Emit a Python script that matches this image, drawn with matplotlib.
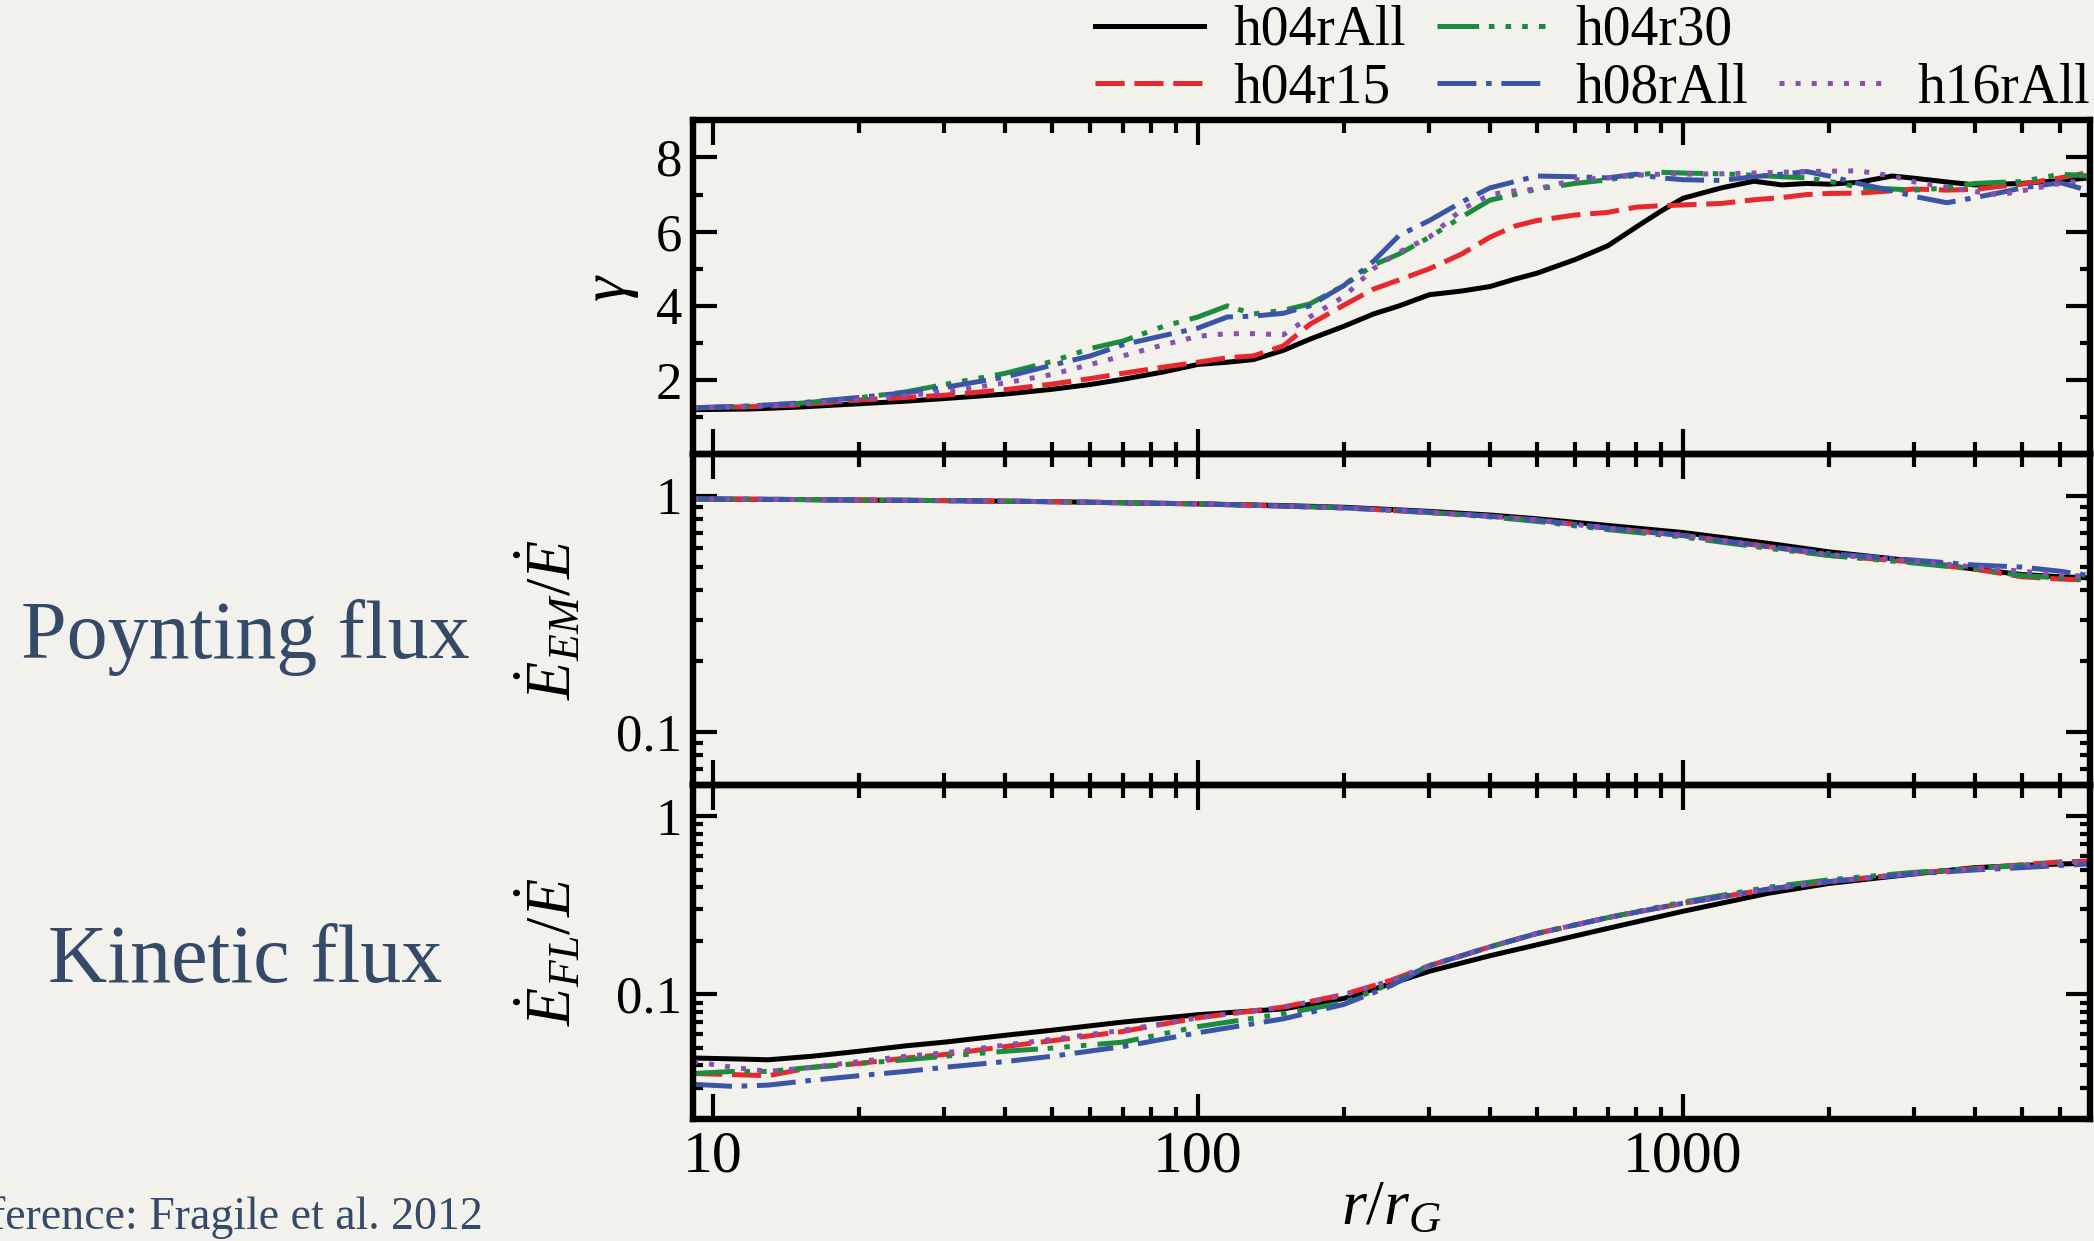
import numpy as np
import matplotlib
matplotlib.use("Agg")
import matplotlib.pyplot as plt
from matplotlib.lines import Line2D
from matplotlib.ticker import LogLocator, NullFormatter, FixedLocator, FixedFormatter

plt.rcParams['font.family'] = ['Liberation Serif', 'DejaVu Serif']
plt.rcParams['mathtext.fontset'] = 'custom'
plt.rcParams['mathtext.rm'] = 'Liberation Serif'
plt.rcParams['mathtext.it'] = 'Liberation Serif:italic'
plt.rcParams['lines.scale_dashes'] = False

# runs: label, colour, dash pattern (points)
labels = ["h04rAll", "h04r15", "h04r30", "h08rAll", "h16rAll"]
colors = ["#000000", "#e8282c", "#1b8c3d", "#3b55a6", "#8a50b0"]
dashes = [None, (21, 7), (30, 7, 4, 8, 4, 8, 4, 8), (28, 7, 4, 7), (3.6, 8)]

# Lorentz factor
r_gamma = [9.1, 12, 15, 20, 25, 30, 40, 50, 60, 70, 85, 100, 115, 130, 150, 170,
           200, 230, 260, 300, 350, 400, 450, 500, 600, 700, 800, 900, 1000, 1200,
           1400, 1600, 1800, 2000, 2300, 2700, 3000, 3500, 4000, 4500, 5000, 6000, 6900]
gamma_h04rAll = [1.20, 1.22, 1.27, 1.36, 1.43, 1.50, 1.62, 1.75, 1.88, 2.02, 2.22, 2.42,
                 2.48, 2.55, 2.80, 3.10, 3.45, 3.78, 4.00, 4.30, 4.40, 4.52, 4.72, 4.88,
                 5.25, 5.62, 6.12, 6.55, 6.90, 7.18, 7.36, 7.26, 7.30, 7.28, 7.33, 7.50,
                 7.44, 7.34, 7.26, 7.28, 7.30, 7.38, 7.45]
gamma_h04r15 = [1.25, 1.28, 1.33, 1.46, 1.53, 1.59, 1.74, 1.89, 2.04, 2.18, 2.35, 2.48,
                2.60, 2.65, 2.92, 3.50, 4.02, 4.45, 4.70, 5.00, 5.40, 5.85, 6.15, 6.30,
                6.45, 6.52, 6.66, 6.70, 6.72, 6.76, 6.86, 6.92, 7.00, 7.03, 7.04, 7.10,
                7.15, 7.12, 7.14, 7.22, 7.28, 7.45, 7.60]
gamma_h04r30 = [1.25, 1.30, 1.37, 1.52, 1.68, 1.88, 2.18, 2.50, 2.85, 3.05, 3.45, 3.70,
                4.00, 3.78, 3.88, 4.05, 4.55, 5.10, 5.40, 5.85, 6.40, 6.85, 7.00, 7.15,
                7.30, 7.40, 7.52, 7.60, 7.58, 7.56, 7.52, 7.48, 7.45, 7.36, 7.20, 7.15,
                7.12, 7.18, 7.30, 7.33, 7.35, 7.55, 7.50]
gamma_h08rAll = [1.25, 1.30, 1.38, 1.53, 1.66, 1.80, 2.08, 2.40, 2.65, 2.95, 3.20, 3.40,
                 3.70, 3.72, 3.80, 4.00, 4.55, 5.20, 5.90, 6.30, 6.80, 7.18, 7.35, 7.50,
                 7.48, 7.45, 7.55, 7.45, 7.40, 7.38, 7.48, 7.55, 7.62, 7.50, 7.30, 7.10,
                 6.95, 6.78, 6.92, 7.05, 7.18, 7.32, 7.10]
gamma_h16rAll = [1.25, 1.28, 1.34, 1.47, 1.58, 1.68, 1.92, 2.15, 2.42, 2.65, 2.95, 3.18,
                 3.25, 3.25, 3.22, 3.70, 4.25, 5.00, 5.45, 5.85, 6.60, 7.00, 7.10, 7.15,
                 7.40, 7.45, 7.52, 7.55, 7.55, 7.56, 7.58, 7.60, 7.62, 7.63, 7.64, 7.50,
                 7.34, 7.20, 7.08, 6.99, 7.10, 7.30, 7.40]

# Poynting (EM) fraction of total energy flux
r_em = [9.1, 15, 20, 30, 50, 70, 100, 150, 200, 300, 400, 500, 700, 1000, 1500,
        2000, 3000, 4000, 5000, 6000, 6900]
em_h04rAll = [0.97, 0.965, 0.96, 0.955, 0.945, 0.935, 0.925, 0.91, 0.895, 0.86, 0.83,
              0.80, 0.75, 0.70, 0.63, 0.58, 0.53, 0.49, 0.465, 0.455, 0.45]
em_h04r15 = [0.97, 0.965, 0.96, 0.955, 0.945, 0.935, 0.925, 0.905, 0.89, 0.85, 0.82,
             0.79, 0.73, 0.68, 0.61, 0.56, 0.525, 0.49, 0.455, 0.445, 0.44]
em_h04r30 = [0.97, 0.965, 0.96, 0.955, 0.945, 0.935, 0.925, 0.905, 0.89, 0.85, 0.815,
             0.78, 0.72, 0.67, 0.60, 0.56, 0.52, 0.49, 0.46, 0.45, 0.44]
em_h08rAll = [0.97, 0.965, 0.96, 0.955, 0.945, 0.935, 0.925, 0.905, 0.89, 0.855, 0.82,
              0.79, 0.73, 0.68, 0.61, 0.57, 0.535, 0.51, 0.50, 0.48, 0.46]
em_h16rAll = [0.97, 0.965, 0.96, 0.955, 0.945, 0.935, 0.925, 0.905, 0.89, 0.85, 0.82,
              0.79, 0.73, 0.68, 0.61, 0.565, 0.53, 0.50, 0.48, 0.465, 0.455]

# kinetic (FL) fraction of total energy flux
r_fl = [9.1, 11, 13, 16, 20, 25, 30, 40, 50, 70, 100, 150, 200, 250, 300, 400, 500,
        700, 1000, 1500, 2000, 3000, 4000, 5000, 6000, 6900]
fl_h04rAll = [0.044, 0.0435, 0.043, 0.045, 0.048, 0.0515, 0.054, 0.059, 0.063, 0.070,
              0.077, 0.083, 0.095, 0.115, 0.135, 0.165, 0.19, 0.235, 0.293, 0.37, 0.42,
              0.475, 0.515, 0.53, 0.54, 0.545]
fl_h04r15 = [0.036, 0.0355, 0.035, 0.039, 0.041, 0.044, 0.046, 0.051, 0.055, 0.062,
             0.074, 0.085, 0.100, 0.12, 0.145, 0.185, 0.22, 0.27, 0.325, 0.39, 0.43,
             0.48, 0.51, 0.535, 0.555, 0.56]
fl_h04r30 = [0.036, 0.037, 0.037, 0.039, 0.041, 0.043, 0.045, 0.048, 0.05, 0.054,
             0.066, 0.078, 0.09, 0.115, 0.145, 0.185, 0.22, 0.27, 0.33, 0.40, 0.44,
             0.485, 0.51, 0.53, 0.55, 0.56]
fl_h08rAll = [0.0313, 0.0305, 0.031, 0.033, 0.035, 0.037, 0.039, 0.042, 0.045, 0.051,
              0.061, 0.073, 0.088, 0.112, 0.145, 0.185, 0.22, 0.27, 0.325, 0.39, 0.43,
              0.475, 0.50, 0.515, 0.53, 0.54]
fl_h16rAll = [0.042, 0.039, 0.037, 0.039, 0.042, 0.045, 0.047, 0.052, 0.056, 0.063,
              0.074, 0.085, 0.099, 0.12, 0.145, 0.185, 0.22, 0.27, 0.325, 0.39, 0.43,
              0.48, 0.505, 0.53, 0.545, 0.555]

gamma_all = [gamma_h04rAll, gamma_h04r15, gamma_h04r30, gamma_h08rAll, gamma_h16rAll]
em_all = [em_h04rAll, em_h04r15, em_h04r30, em_h08rAll, em_h16rAll]
fl_all = [fl_h04rAll, fl_h04r15, fl_h04r30, fl_h08rAll, fl_h16rAll]

paper = "#f3f1ec"
ink = "#344a68"

fig = plt.figure(figsize=(20.94, 12.41), dpi=100, facecolor=paper)

left, width = 0.331, 0.667
ax_g = fig.add_axes([left, 0.634, width, 0.269])
ax_em = fig.add_axes([left, 0.3675, width, 0.2665])
ax_fl = fig.add_axes([left, 0.0983, width, 0.2692])


def draw(ax, r, series):
    lines = []
    for y, c, d, lab in zip(series, colors, dashes, labels):
        ln, = ax.plot(r, y, color=c, lw=3.6, label=lab)
        if d is not None:
            ln.set_dashes(d)
        lines.append(ln)
    return lines


def style(ax):
    ax.set_facecolor("none")
    ax.set_xscale("log")
    ax.set_xlim(9.1, 6900)
    for s in ax.spines.values():
        s.set_linewidth(4.6)
    ax.tick_params(which="both", direction="in", top=True, right=True,
                   width=3, pad=8)
    ax.tick_params(axis="x", which="major", length=18, labelsize=43)
    ax.tick_params(axis="x", which="minor", length=9)
    ax.tick_params(axis="y", which="major", length=17, labelsize=38)
    ax.tick_params(axis="y", which="minor", length=7.5)
    ax.xaxis.set_major_locator(FixedLocator([10, 100, 1000]))
    ax.xaxis.set_major_formatter(FixedFormatter(["10", "100", "1000"]))
    ax.xaxis.set_minor_locator(LogLocator(base=10, subs=np.arange(2, 10), numticks=20))
    ax.xaxis.set_minor_formatter(NullFormatter())


lines = draw(ax_g, r_gamma, gamma_all)
draw(ax_em, r_em, em_all)
draw(ax_fl, r_fl, fl_all)

for ax in (ax_g, ax_em, ax_fl):
    style(ax)

ax_g.set_ylim(0, 9)
ax_g.set_yticks([2, 4, 6, 8])
ax_g.set_yticks([1, 3, 5, 7, 9], minor=True)

for ax, lo in ((ax_em, 0.06), (ax_fl, 0.02)):
    ax.set_yscale("log")
    ax.set_ylim(lo, 1.5)
    ax.yaxis.set_major_locator(FixedLocator([0.1, 1]))
    ax.yaxis.set_major_formatter(FixedFormatter(["0.1", "1"]))
    ax.yaxis.set_minor_locator(LogLocator(base=10, subs=np.arange(2, 10), numticks=20))
    ax.yaxis.set_minor_formatter(NullFormatter())

ax_g.tick_params(axis="x", labelbottom=False)
ax_em.tick_params(axis="x", labelbottom=False)

ax_g.set_ylabel(r"$\gamma$", fontsize=46)
ax_g.yaxis.set_label_coords(-0.037, 0.5)
ax_em.set_ylabel(r"$\dot{E}_{EM}/\dot{E}$", fontsize=45)
ax_em.yaxis.set_label_coords(-0.077, 0.5)
ax_fl.set_ylabel(r"$\dot{E}_{FL}/\dot{E}$", fontsize=45)
ax_fl.yaxis.set_label_coords(-0.077, 0.5)
ax_fl.set_xlabel(r"$r/r_G$", fontsize=46, labelpad=-3)

# legend: blank slot keeps h16rAll on the second row
blank = Line2D([], [], color="none")
handles = [lines[0], lines[1], lines[2], lines[3], blank, lines[4]]
names = [labels[0], labels[1], labels[2], labels[3], "", labels[4]]
fig.legend(handles, names, ncol=3, loc="upper right", bbox_to_anchor=(0.998, 0.996),
           frameon=False, fontsize=40, handlelength=1.95, handletextpad=0.54,
           columnspacing=0.55, labelspacing=0.1, borderpad=0, borderaxespad=0)

fig.text(0.117, 0.47, "Poynting flux", fontsize=59, color=ink, ha="center", va="baseline")
fig.text(0.117, 0.209, "Kinetic flux", fontsize=59, color=ink, ha="center", va="baseline")
fig.text(0.2307, 0.0097, "Reference: Fragile et al. 2012", fontsize=33, color=ink,
         ha="right", va="baseline")

fig.savefig("out.png", dpi=100, facecolor=paper)
